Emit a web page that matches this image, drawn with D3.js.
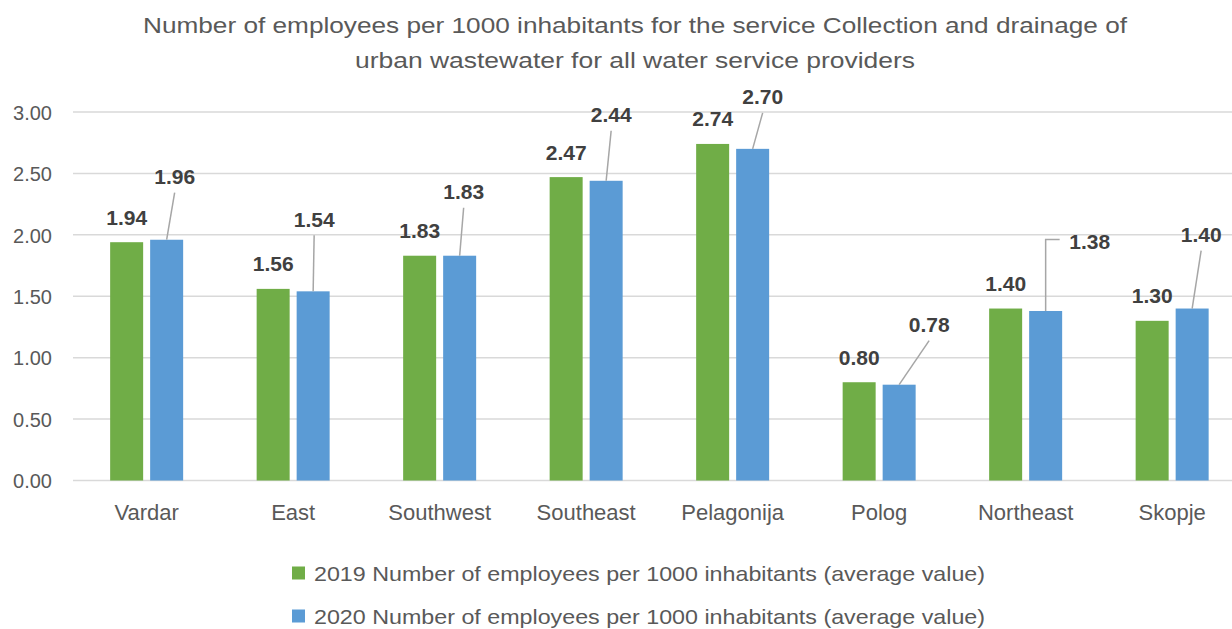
<!DOCTYPE html>
<html>
<head>
<meta charset="utf-8">
<script src="https://cdn.jsdelivr.net/npm/d3@7"></script>
<style>
  html, body { margin: 0; padding: 0; background: #ffffff; }
  svg { display: block; }
</style>
</head>
<body>
<svg id="chart" width="1232" height="629"></svg>
<script>
// ---- Data ----
const categories = ["Vardar", "East", "Southwest", "Southeast", "Pelagonija", "Polog", "Northeast", "Skopje"];
const values2019 = [1.94, 1.56, 1.83, 2.47, 2.74, 0.80, 1.40, 1.30];
const values2020 = [1.96, 1.54, 1.83, 2.44, 2.70, 0.78, 1.38, 1.40];
const seriesNames = [
  "2019 Number of employees per 1000 inhabitants (average value)",
  "2020 Number of employees per 1000 inhabitants (average value)"
];
const yTicks = [0, 0.5, 1.0, 1.5, 2.0, 2.5, 3.0];
const titleLines = [
  "Number of employees per 1000 inhabitants for the service Collection and drainage of",
  "urban wastewater for all water service providers"
];

// ---- Layout (not data) ----
const colors = ["#70AD47", "#5B9BD5"];
const labelShift2020 = [[8, -38], [1, -47], [4, -39], [5, -41], [10, -27], [30, -35], [44, -45], [9, -49]];
const elbowConnector = [false, false, false, false, false, false, true, false];

const svg = d3.select("#chart");
const font = "'Liberation Sans', Arial, sans-serif";

const x0 = d3.scaleBand().domain(categories).range([73.4, 1245.4]).paddingInner(0).paddingOuter(0);
const x1 = d3.scaleBand().domain([0, 1]).range([-36.5, 36.5]).paddingInner(0.175).paddingOuter(0);
const y = d3.scaleLinear().domain([0, 3]).range([480.5, 112]);

// Title
svg.append("g").selectAll("text").data(titleLines).join("text")
  .attr("x", 635)
  .attr("y", (d, i) => 33 + i * 35)
  .attr("text-anchor", "middle")
  .attr("font-family", font)
  .attr("font-size", 22)
  .attr("fill", "#595959")
  .attr("textLength", (d, i) => i === 0 ? 984 : 560)
  .attr("lengthAdjust", "spacingAndGlyphs")
  .text(d => d);

// Gridlines + y axis
const yAxis = d3.axisLeft(y).tickValues(yTicks).tickFormat(d3.format(".2f")).tickSize(0).tickPadding(0);
const gy = svg.append("g").attr("transform", "translate(52,0)").call(yAxis);
gy.select(".domain").remove();
gy.selectAll("text")
  .attr("font-family", font)
  .attr("font-size", 20)
  .attr("fill", "#595959")
  .attr("dy", "0.36em");

svg.append("g").selectAll("line").data(yTicks).join("line")
  .attr("x1", 73).attr("x2", 1232)
  .attr("y1", d => y(d)).attr("y2", d => y(d))
  .attr("stroke", "#d9d9d9")
  .attr("stroke-width", 1.5);

// X axis labels
const xAxis = d3.axisBottom(x0).tickSize(0).tickPadding(0);
const gx = svg.append("g").attr("transform", "translate(0,504)").call(xAxis);
gx.select(".domain").remove();
gx.selectAll("text")
  .attr("font-family", font)
  .attr("font-size", 22)
  .attr("fill", "#595959")
  .attr("dy", "0.71em");

// Bars
const series = [values2019, values2020];
const groups = svg.append("g").selectAll("g").data(categories).join("g")
  .attr("transform", d => `translate(${x0(d) + x0.bandwidth() / 2},0)`);

groups.selectAll("rect")
  .data((c, i) => series.map((s, k) => ({ k, v: s[i] })))
  .join("rect")
  .attr("x", d => x1(d.k))
  .attr("width", x1.bandwidth())
  .attr("y", d => y(d.v))
  .attr("height", d => y(0) - y(d.v))
  .attr("fill", d => colors[d.k]);

// Labels 2019 (default position)
const labelFont = 21;
svg.append("g").selectAll("text").data(categories).join("text")
  .attr("x", (c) => x0(c) + x0.bandwidth() / 2 + x1(0) + x1.bandwidth() / 2)
  .attr("y", (c, i) => y(values2019[i]) - 25)
  .attr("dy", "0.36em")
  .attr("text-anchor", "middle")
  .attr("font-family", font)
  .attr("font-weight", "bold")
  .attr("font-size", labelFont)
  .attr("fill", "#404040")
  .text((c, i) => d3.format(".2f")(values2019[i]));

// Labels 2020 with leader lines
const lab20 = categories.map((c, i) => {
  const bx = x0(c) + x0.bandwidth() / 2 + x1(1) + x1.bandwidth() / 2;
  const by = y(values2020[i]);
  return { bx, by, lx: bx + labelShift2020[i][0], ly: by - 25 + labelShift2020[i][1], v: values2020[i], elbow: elbowConnector[i] };
});

svg.append("g").selectAll("path").data(lab20).join("path")
  .attr("d", d => d.elbow
    ? `M${d.lx - 30},${d.ly - 1.5}H${d.bx}V${d.by}`
    : `M${d.lx},${d.ly + 16}L${d.bx},${d.by}`)
  .attr("fill", "none")
  .attr("stroke", "#a6a6a6")
  .attr("stroke-width", 1.5);

svg.append("g").selectAll("text").data(lab20).join("text")
  .attr("x", d => d.lx)
  .attr("y", d => d.ly)
  .attr("dy", "0.36em")
  .attr("text-anchor", "middle")
  .attr("font-family", font)
  .attr("font-weight", "bold")
  .attr("font-size", labelFont)
  .attr("fill", "#404040")
  .text(d => d3.format(".2f")(d.v));

// Legend
const leg = svg.append("g").selectAll("g").data(seriesNames).join("g")
  .attr("transform", (d, i) => `translate(292,${566.5 + i * 43})`);
leg.append("rect").attr("width", 13).attr("height", 13).attr("fill", (d, i) => colors[i]);
leg.append("text")
  .attr("x", 22).attr("y", 6.5).attr("dy", "0.36em")
  .attr("font-family", font)
  .attr("font-size", 21)
  .attr("fill", "#595959")
  .attr("textLength", 671)
  .attr("lengthAdjust", "spacingAndGlyphs")
  .text(d => d);
</script>
</body>
</html>
